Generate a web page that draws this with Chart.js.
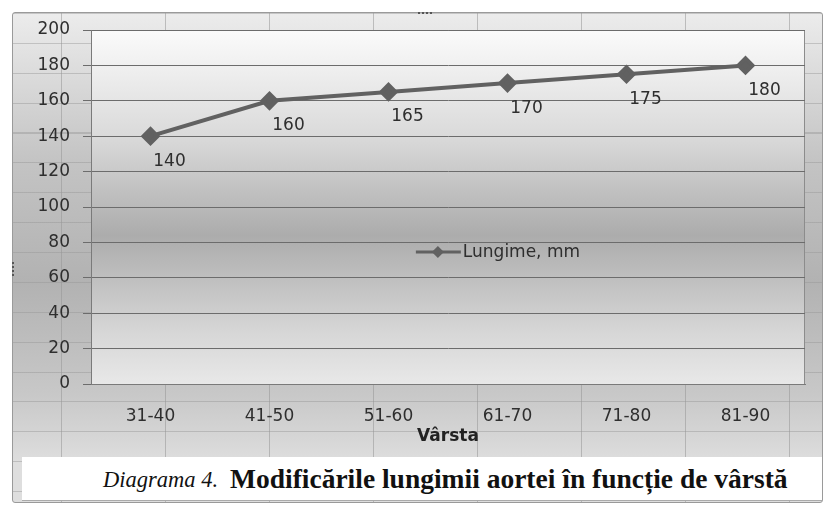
<!DOCTYPE html>
<html>
<head>
<meta charset="utf-8">
<script src="https://cdn.jsdelivr.net/npm/chart.js@4"></script>
<style>
  html, body { margin: 0; padding: 0; background: #fff; }
  #page { position: relative; width: 833px; height: 508px; overflow: hidden; background: #fff; }
  #frame {
    position: absolute; left: 12px; top: 12px; width: 809px; height: 489px;
    border: 1px solid #9a9a9a; border-radius: 3px;
    background:
      repeating-linear-gradient(90deg, transparent 0 48px, rgba(150,150,150,.55) 48px 49px, transparent 49px 104px),
      repeating-linear-gradient(180deg, rgba(150,150,150,.45) 0 1px, transparent 1px 29.875px),
      linear-gradient(180deg, #ececec 0%, #c4c4c4 30%, #b2b2b2 55%, #c8c8c8 78%, #dedede 92%);
  }
  #caption {
    position: absolute; left: 22px; top: 457px; width: 719px; height: 43px;
    padding-left: 81px;
    background: #fff; border-bottom: 1px solid #aaa;
    font-family: "Liberation Serif", serif; color: #111;
    display: flex; align-items: center; justify-content: flex-start;
    white-space: nowrap;
  }
  #caption i { font-size: 22.5px; margin-right: 12px; padding-top: 3px; }
  #caption span { font-size: 27.5px; font-weight: bold; }
  .dots { position: absolute; background: repeating-linear-gradient(90deg, #555 0 2px, transparent 2px 4px); }
  #chart { position: absolute; left: 0; top: 0; }
</style>
</head>
<body>
<div id="page">
  <div id="frame"></div>
  <div class="dots" style="left:418px;top:12px;width:14px;height:2px"></div>
  <div class="dots" style="left:12px;top:262px;width:2px;height:14px;background:repeating-linear-gradient(180deg,#555 0 2px,transparent 2px 4px)"></div>
  <div id="caption"><i>Diagrama 4.</i><span>Modificările lungimii aortei în funcție de vârstă</span></div>
  <canvas id="chart" width="833" height="508"></canvas>
</div>
<script>
const ageGroups = ['31-40', '41-50', '51-60', '61-70', '71-80', '81-90'];
const lengthMm = [140, 160, 165, 170, 175, 180];
const seriesName = 'Lungime, mm';
const axisTitle = 'Vârsta';

const lineColor = '#616161';
const textColor = '#2e2e2e';
const tickFont = { family: 'DejaVu Sans', size: 17 };

// plot area gradient + border
const plotBackground = {
    id: 'plotBackground',
    beforeDraw(chart) {
        const { ctx, chartArea: a } = chart;
        const g = ctx.createLinearGradient(0, a.top, 0, a.bottom);
        g.addColorStop(0, '#fbfbfb');
        g.addColorStop(0.3, '#dadada');
        g.addColorStop(0.58, '#acacac');
        g.addColorStop(0.85, '#d6d6d6');
        g.addColorStop(1, '#e8e8e8');
        ctx.save();
        ctx.fillStyle = g;
        ctx.fillRect(a.left, a.top, a.right - a.left, a.bottom - a.top);
        ctx.strokeStyle = '#8c8c8c';
        ctx.lineWidth = 1;
        ctx.strokeRect(a.left + 0.5, a.top + 0.5, a.right - a.left - 1, a.bottom - a.top);
        ctx.restore();
    }
};

// value labels below-right of each point
const valueLabels = {
    id: 'valueLabels',
    afterDatasetsDraw(chart) {
        const { ctx } = chart;
        const meta = chart.getDatasetMeta(0);
        ctx.save();
        ctx.font = '17px "DejaVu Sans"';
        ctx.fillStyle = textColor;
        ctx.textAlign = 'center';
        ctx.textBaseline = 'middle';
        meta.data.forEach((pt, i) => {
            ctx.fillText(String(lengthMm[i]), pt.x + 19, pt.y + 25);
        });
        ctx.restore();
    }
};

// legend placed inside the plot area, like the Excel original
const insideLegend = {
    id: 'insideLegend',
    afterDraw(chart) {
        const { ctx, chartArea: a } = chart;
        const x = a.left + (a.right - a.left) * 0.455;
        const y = a.top + (a.bottom - a.top) * 0.627;
        ctx.save();
        ctx.strokeStyle = lineColor;
        ctx.lineWidth = 3;
        ctx.beginPath();
        ctx.moveTo(x, y);
        ctx.lineTo(x + 45, y);
        ctx.stroke();
        ctx.fillStyle = lineColor;
        ctx.beginPath();
        ctx.moveTo(x + 22, y - 6);
        ctx.lineTo(x + 28, y);
        ctx.lineTo(x + 22, y + 6);
        ctx.lineTo(x + 16, y);
        ctx.closePath();
        ctx.fill();
        ctx.font = '17px "DejaVu Sans"';
        ctx.fillStyle = textColor;
        ctx.textBaseline = 'middle';
        ctx.fillText(seriesName, x + 47, y + 1);
        ctx.restore();
    }
};

const ctx = document.getElementById('chart').getContext('2d');
const myChart = new Chart(ctx, {
    type: 'line',
    data: {
        labels: ageGroups,
        datasets: [{
            label: seriesName,
            data: lengthMm,
            borderColor: lineColor,
            backgroundColor: lineColor,
            borderWidth: 4,
            pointStyle: 'rectRot',
            pointRadius: 7,
            pointHoverRadius: 7,
            tension: 0
        }]
    },
    options: {
        responsive: false,
        animation: false,
        layout: {
            padding: { left: 12, top: 30, right: 28, bottom: 61 }
        },
        plugins: {
            legend: { display: false },
            tooltip: { enabled: false }
        },
        scales: {
            x: {
                offset: true,
                afterFit(scale) { scale.height = 63; },
                grid: { display: false },
                border: { display: true, color: '#7a7a7a' },
                ticks: { color: textColor, font: tickFont, padding: 14 },
                title: {
                    display: true,
                    text: axisTitle,
                    color: '#222',
                    font: { family: 'DejaVu Sans', size: 17, weight: 'bold' },
                    padding: 0
                }
            },
            y: {
                min: 0,
                max: 200,
                afterFit(scale) { scale.width = 79; },
                grid: { color: '#6c6c6c', tickLength: 8, tickColor: '#6c6c6c' },
                border: { display: true, color: '#7a7a7a' },
                ticks: { stepSize: 20, color: textColor, font: tickFont, padding: 13 }
            }
        }
    },
    plugins: [plotBackground, valueLabels, insideLegend]
});
</script>
</body>
</html>
